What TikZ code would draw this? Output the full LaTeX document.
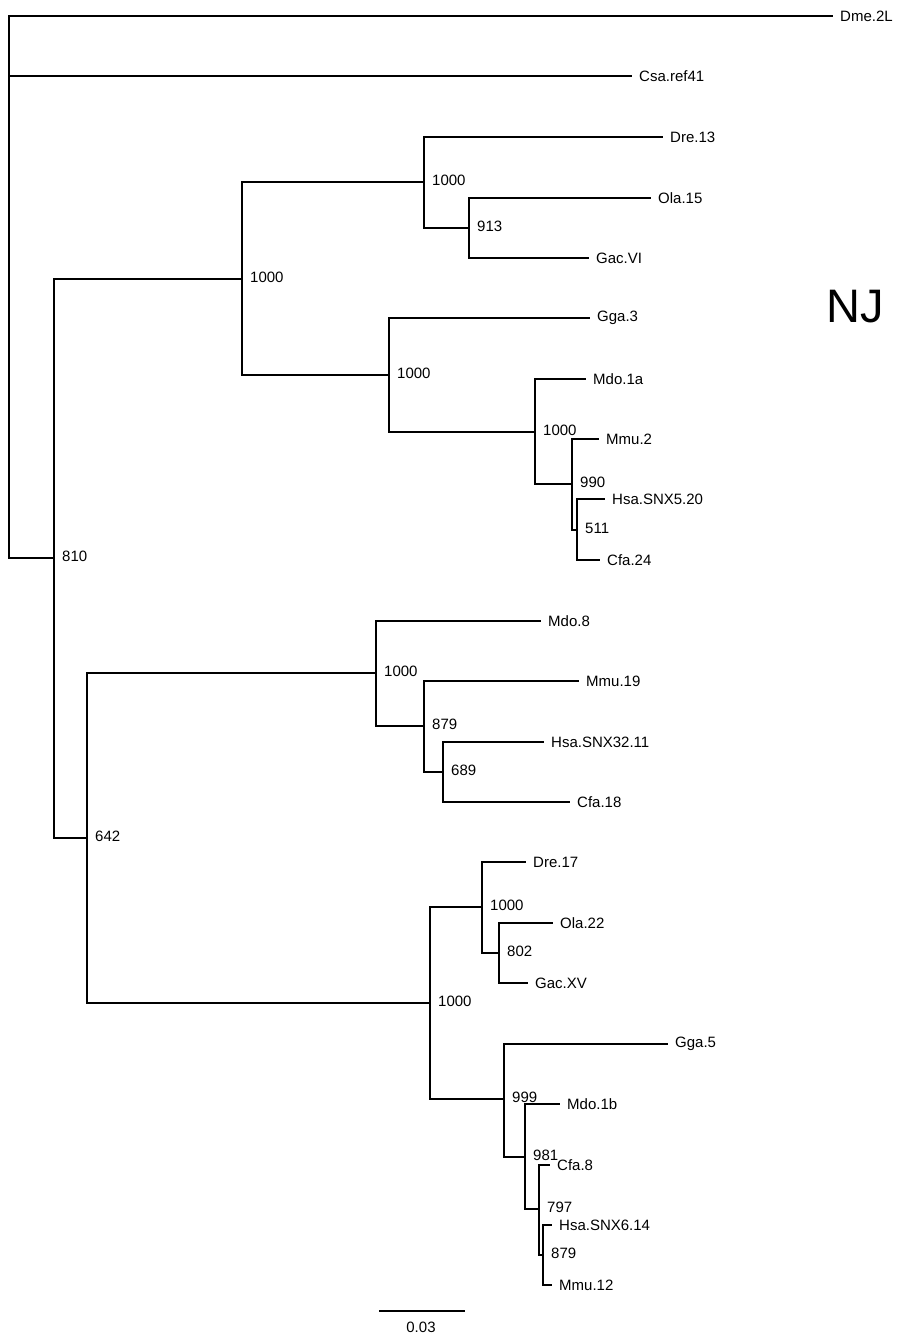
\documentclass[tikz,border=0pt]{standalone}
\usepackage{fontspec}
\setmainfont{Liberation Sans}
\begin{document}
\begin{tikzpicture}[x=1pt,y=-1pt,
  br/.style={line width=1.2pt,line cap=rect},
  leaf/.style={anchor=west,inner xsep=8pt,inner ysep=0pt,font=\fontsize{15}{17}\selectfont},
  boot/.style={anchor=west,inner sep=0pt,xshift=8pt,yshift=2pt,font=\fontsize{15}{17}\selectfont}]
\useasboundingbox (0,0) rectangle (897,1336);
% internal nodes
\coordinate (R) at (9,287);
\coordinate (n810) at (54,558);
\coordinate (nA) at (242,279);
\coordinate (nB) at (424,182);
\coordinate (nD) at (469,228);
\coordinate (nC) at (389,375);
\coordinate (nE) at (535,432);
\coordinate (nF) at (572,484);
\coordinate (nG) at (577,530);
\coordinate (n642) at (87,838);
\coordinate (nH) at (376,673);
\coordinate (nJ) at (424,726);
\coordinate (nK) at (443,772);
\coordinate (nI) at (430,1003);
\coordinate (nL) at (482,907);
\coordinate (nN) at (499,953);
\coordinate (nM) at (504,1099);
\coordinate (nO) at (525,1157);
\coordinate (nP) at (539,1209);
\coordinate (nQ) at (543,1255);
% leaves
\node[leaf] (dme) at (832,16) {Dme.2L};
\node[leaf] (csa) at (631,76) {Csa.ref41};
\node[leaf] (dre13) at (662,137) {Dre.13};
\node[leaf] (ola15) at (650,198) {Ola.15};
\node[leaf] (gacVI) at (588,258) {Gac.VI};
\node[leaf] (gga3) at (589,318) {Gga.3};
\node[leaf] (mdo1a) at (585,379) {Mdo.1a};
\node[leaf] (mmu2) at (598,439) {Mmu.2};
\node[leaf] (hsa5) at (604,499) {Hsa.SNX5.20};
\node[leaf] (cfa24) at (599,560) {Cfa.24};
\node[leaf] (mdo8) at (540,621) {Mdo.8};
\node[leaf] (mmu19) at (578,681) {Mmu.19};
\node[leaf] (hsa32) at (543,742) {Hsa.SNX32.11};
\node[leaf] (cfa18) at (569,802) {Cfa.18};
\node[leaf] (dre17) at (525,862) {Dre.17};
\node[leaf] (ola22) at (552,923) {Ola.22};
\node[leaf] (gacXV) at (527,983) {Gac.XV};
\node[leaf] (gga5) at (667,1044) {Gga.5};
\node[leaf] (mdo1b) at (559,1104) {Mdo.1b};
\node[leaf] (cfa8) at (549,1165) {Cfa.8};
\node[leaf] (hsa6) at (551,1225) {Hsa.SNX6.14};
\node[leaf] (mmu12) at (551,1285) {Mmu.12};
% branches
\draw[br] (dme.west) -| (R);
\draw[br] (csa.west) -| (R);
\draw[br] (n810) -| (R);
\draw[br] (nA) -| (n810);
\draw[br] (n642) -| (n810);
\draw[br] (nB) -| (nA);
\draw[br] (nC) -| (nA);
\draw[br] (dre13.west) -| (nB);
\draw[br] (nD) -| (nB);
\draw[br] (ola15.west) -| (nD);
\draw[br] (gacVI.west) -| (nD);
\draw[br] (gga3.west) -| (nC);
\draw[br] (nE) -| (nC);
\draw[br] (mdo1a.west) -| (nE);
\draw[br] (nF) -| (nE);
\draw[br] (mmu2.west) -| (nF);
\draw[br] (nG) -| (nF);
\draw[br] (hsa5.west) -| (nG);
\draw[br] (cfa24.west) -| (nG);
\draw[br] (nH) -| (n642);
\draw[br] (nI) -| (n642);
\draw[br] (mdo8.west) -| (nH);
\draw[br] (nJ) -| (nH);
\draw[br] (mmu19.west) -| (nJ);
\draw[br] (nK) -| (nJ);
\draw[br] (hsa32.west) -| (nK);
\draw[br] (cfa18.west) -| (nK);
\draw[br] (nL) -| (nI);
\draw[br] (nM) -| (nI);
\draw[br] (dre17.west) -| (nL);
\draw[br] (nN) -| (nL);
\draw[br] (ola22.west) -| (nN);
\draw[br] (gacXV.west) -| (nN);
\draw[br] (gga5.west) -| (nM);
\draw[br] (nO) -| (nM);
\draw[br] (mdo1b.west) -| (nO);
\draw[br] (nP) -| (nO);
\draw[br] (cfa8.west) -| (nP);
\draw[br] (nQ) -| (nP);
\draw[br] (hsa6.west) -| (nQ);
\draw[br] (mmu12.west) -| (nQ);
% bootstrap values
\node[boot] (b810) at (n810) {810};
\node[boot] (bA) at (nA) {1000};
\node[boot] (bB) at (nB) {1000};
\node[boot] (bD) at (nD) {913};
\node[boot] (bC) at (nC) {1000};
\node[boot] (bE) at (nE) {1000};
\node[boot] (bF) at (nF) {990};
\node[boot] (bG) at (nG) {511};
\node[boot] (b642) at (n642) {642};
\node[boot] (bH) at (nH) {1000};
\node[boot] (bJ) at (nJ) {879};
\node[boot] (bK) at (nK) {689};
\node[boot] (bI) at (nI) {1000};
\node[boot] (bL) at (nL) {1000};
\node[boot] (bN) at (nN) {802};
\node[boot] (bM) at (nM) {999};
\node[boot] (bO) at (nO) {981};
\node[boot] (bP) at (nP) {797};
\node[boot] (bQ) at (nQ) {879};
% scale bar
\coordinate (sb1) at (380,1311);
\coordinate (sb2) at (464,1311);
\draw[br] (sb1) -- (sb2);
\node[font=\fontsize{15}{17}\selectfont] (sbl) at (421,1327) {0.03};
% title
\node[font=\fontsize{47}{50}\selectfont,inner sep=0pt] (nj) at (855,307) {NJ};
\end{tikzpicture}
\end{document}
